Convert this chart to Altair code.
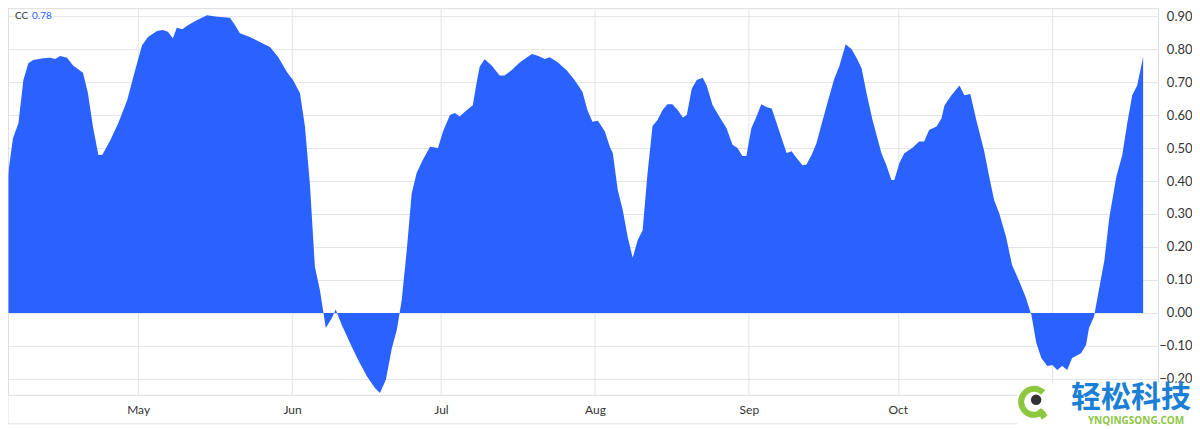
import altair as alt
import pandas as pd

# Day offsets from 2023-04-01 and CC values
days = [3.8, 4.8, 5.9, 6.9, 7.9, 8.9, 10.9, 12.3, 13.3, 14.3,
        15.7, 16.9, 18.9, 19.9, 20.9, 22.0, 22.8, 24.4, 26.0, 27.8,
        29.4, 30.8, 32.0, 33.8, 35.0, 36.0, 37.0, 37.8, 38.9, 40.1,
        41.9, 43.9, 45.9, 48.5, 49.5, 50.5, 52.5, 54.5, 56.6, 58.2,
        60.0, 61.2, 62.6, 63.6, 64.6, 65.6, 66.6, 67.8, 69.0, 69.8,
        71.0, 72.7, 74.3, 76.1, 77.7, 78.7, 79.9, 81.1, 82.1, 83.1,
        84.1, 85.1, 86.1, 87.3, 88.8, 90.4, 91.4, 92.8, 93.8, 94.8,
        95.8, 97.4, 98.2, 98.8, 99.8, 101.2, 102.8, 103.8, 105.2, 106.9,
        109.3, 110.5, 111.9, 112.9, 114.5, 116.3, 117.9, 119.5, 120.5, 121.5,
        122.6, 124.0, 125.0, 125.6, 126.6, 127.6, 128.6, 129.6, 130.6, 131.6,
        132.6, 133.6, 134.6, 135.6, 136.6, 137.6, 138.7, 139.7, 140.5, 141.5,
        142.5, 143.7, 144.5, 145.7, 147.1, 148.5, 149.7, 150.7, 151.7, 152.5,
        153.5, 154.5, 155.5, 156.6, 157.6, 158.6, 159.6, 160.6, 161.6, 162.6,
        163.8, 164.6, 165.6, 166.6, 167.6, 168.8, 170.2, 171.2, 172.5, 173.7,
        174.7, 175.7, 176.7, 177.9, 179.7, 180.7, 181.7, 182.3, 183.3, 184.3,
        185.9, 187.3, 188.3, 189.3, 190.8, 191.8, 192.4, 193.8, 195.4, 196.4,
        197.6, 198.8, 200.4, 201.4, 202.4, 203.4, 204.8, 206.0, 207.5, 208.7,
        209.9, 210.9, 211.9, 213.1, 214.1, 215.1, 216.1, 217.1, 218.1, 219.9,
        220.9, 221.5, 222.5, 223.5, 224.6, 225.6, 227.0, 228.2, 229.2, 230.2,
        231.2, 232.4]

cc = [0.42, 0.53, 0.575, 0.706, 0.757, 0.767, 0.772, 0.774, 0.77, 0.779,
      0.774, 0.75, 0.728, 0.666, 0.565, 0.479, 0.48, 0.524, 0.575, 0.645,
      0.736, 0.812, 0.837, 0.855, 0.858, 0.853, 0.833, 0.865, 0.86, 0.873,
      0.888, 0.903, 0.898, 0.895, 0.873, 0.848, 0.837, 0.822, 0.806, 0.776,
      0.73, 0.706, 0.666, 0.565, 0.39, 0.14, 0.07, -0.046, -0.016, 0.01,
      -0.036, -0.092, -0.142, -0.193, -0.228, -0.243, -0.203, -0.107, -0.052, 0.04,
      0.19, 0.363, 0.424, 0.463, 0.504, 0.50, 0.55, 0.60, 0.606, 0.596,
      0.61, 0.63, 0.70, 0.747, 0.769, 0.75, 0.72, 0.72, 0.736, 0.76,
      0.785, 0.78, 0.77, 0.775, 0.76, 0.736, 0.706, 0.67, 0.615, 0.58,
      0.583, 0.55, 0.504, 0.484, 0.373, 0.312, 0.23, 0.167, 0.22, 0.25,
      0.424, 0.567, 0.585, 0.615, 0.633, 0.633, 0.615, 0.593, 0.6, 0.68,
      0.706, 0.713, 0.69, 0.63, 0.594, 0.56, 0.51, 0.5, 0.476, 0.476,
      0.56, 0.594, 0.633, 0.624, 0.62, 0.575, 0.53, 0.485, 0.49, 0.47,
      0.448, 0.45, 0.478, 0.514, 0.57, 0.636, 0.71, 0.747, 0.815, 0.80,
      0.773, 0.742, 0.666, 0.585, 0.484, 0.448, 0.403, 0.403, 0.454, 0.484,
      0.5, 0.52, 0.52, 0.555, 0.565, 0.59, 0.63, 0.66, 0.69, 0.66,
      0.664, 0.585, 0.49, 0.413, 0.342, 0.303, 0.23, 0.145, 0.094, 0.05,
      -0.006, -0.092, -0.137, -0.161, -0.158, -0.173, -0.161, -0.173, -0.137, -0.122,
      -0.097, -0.046, -0.012, 0.07, 0.16, 0.29, 0.413, 0.479, 0.575, 0.66,
      0.69, 0.776]

y_ticks = [-0.2, -0.1, 0.0, 0.1, 0.2, 0.3, 0.4, 0.5, 0.6, 0.7, 0.8, 0.9]
month_ticks = [(2023, 5), (2023, 6), (2023, 7), (2023, 8), (2023, 9), (2023, 10), (2023, 11)]
series_name = "CC"

base = pd.Timestamp("2023-04-01")
stamps = base + pd.to_timedelta(days, unit="D")
df = pd.DataFrame({"date": stamps.strftime("%Y-%m-%dT%H:%M:%S"), "cc": cc})


def dt(ts):
    return alt.DateTime(year=ts.year, month=ts.month, date=ts.day,
                        hours=ts.hour, minutes=ts.minute)


x_start = base + pd.Timedelta(days=3.8)
x_end = base + pd.Timedelta(days=235.4)

W, H = 1151, 387
FONT = "Lato"
GRID = "#e3e4e8"
LABEL = "#333333"
BLUE = "#2962FF"

area = alt.Chart(df).mark_area(color=BLUE, opacity=1, interpolate="linear").encode(
    x=alt.X("date:T",
            scale=alt.Scale(domain=[dt(x_start), dt(x_end)]),
            axis=alt.Axis(values=[alt.DateTime(year=y, month=m, date=1) for y, m in month_ticks],
                          format="%b", title=None, labelFontSize=12, labelFont=FONT,
                          labelColor=LABEL, labelPadding=10, ticks=False, domain=False,
                          grid=True, gridColor=GRID, labelFlush=False, labelOverlap=False)),
    y=alt.Y("cc:Q",
            scale=alt.Scale(domain=[-0.2485, 0.9242], nice=False, zero=False),
            axis=alt.Axis(orient="right", values=y_ticks, format=".2f", title=None,
                          labelFontSize=13, labelFont=FONT, labelColor=LABEL,
                          labelPadding=34, ticks=False, domain=False, grid=True,
                          gridColor=GRID, labelAlign="right", labelFlush=False)),
    y2=alt.datum(0),
)

one = pd.DataFrame({"k": [0]})

left_border = alt.Chart(one).mark_rule(color="#e0e0e0").encode(
    x=alt.value(0), y=alt.value(0), y2=alt.value(416))
bottom_border = alt.Chart(one).mark_rule(color="#e0e0e0").encode(
    x=alt.value(0), x2=alt.value(1012), y=alt.value(416))

legend_name = alt.Chart(pd.DataFrame({"t": [series_name]})).mark_text(
    align="left", baseline="middle", fontSize=10, font=FONT, color=LABEL).encode(
    text="t:N", x=alt.value(7), y=alt.value(7.5))
legend_val = alt.Chart(pd.DataFrame({"t": [f"{cc[-1]:.2f}"]})).mark_text(
    align="left", baseline="middle", fontSize=10, font=FONT, color=BLUE).encode(
    text="t:N", x=alt.value(24), y=alt.value(7.5))

# watermark (white patch, logo, text)
wm_bg = alt.Chart(one).mark_rect(color="white").encode(
    x=alt.value(1010), x2=alt.value(1200), y=alt.value(375), y2=alt.value(425))
logo_ring = alt.Chart(one).mark_arc(radius=16, radius2=10, theta=2.3, theta2=7.05).encode(
    x=alt.value(1027), y=alt.value(394), color=alt.value("#8dc63f"))
logo_tail = alt.Chart(one).mark_arc(radius=19, radius2=9, theta=2.35, theta2=2.75).encode(
    x=alt.value(1027), y=alt.value(394), color=alt.value("#8dc63f"))
logo_dot = alt.Chart(one).mark_circle(size=110, opacity=1).encode(
    x=alt.value(1029), y=alt.value(392), color=alt.value("#333333"))
wm_cn = alt.Chart(pd.DataFrame({"t": ["轻松科技"]})).mark_text(
    align="center", baseline="middle", fontSize=30, fontWeight="bold",
    font="Noto Sans CJK SC", color="#1b7fd6").encode(
    text="t:N", x=alt.value(1124), y=alt.value(390))
wm_en = alt.Chart(pd.DataFrame({"t": ["YNQINGSONG.COM"]})).mark_text(
    align="center", baseline="middle", fontSize=10, fontWeight="bold",
    font="Open Sans", color="#8dc63f").encode(
    text="t:N", x=alt.value(1129), y=alt.value(413))

chart = alt.layer(
    area, left_border, bottom_border, legend_name, legend_val,
    wm_bg, logo_ring, logo_tail, logo_dot, wm_cn, wm_en
).properties(
    width=W, height=H,
    padding={"left": 0, "top": 0, "right": 34, "bottom": 34},
    autosize=alt.AutoSizeParams(type="none"),
).configure_view(stroke=None).configure(background="white")

chart.save("out.html", embed_options={"renderer": "svg", "actions": False})
